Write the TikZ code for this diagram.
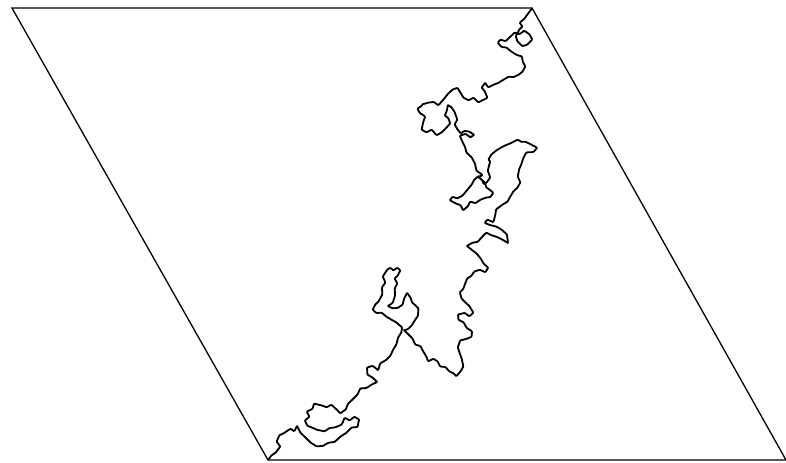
\documentclass[tikz,border=0pt]{standalone}
\usetikzlibrary{decorations.pathmorphing}
\tikzset{
  frame/.style={line width=0.65pt,black},
  trace/.style={line width=0.9pt,black,line join=round,
    decorate,decoration={random steps,segment length=2.2pt,amplitude=2.4pt},
    rounded corners=0.4pt}
}
\begin{document}
\begin{tikzpicture}[x=0.5pt,y=-0.5pt]
\pgfmathsetseed{7}
\useasboundingbox (0,0) rectangle (786,462);
\coordinate (nw) at (12,8);
\coordinate (ne) at (532,8);
\coordinate (se) at (786,460);
\coordinate (sw) at (268,460);
\draw[frame] (nw) -- (ne) -- (se) -- (sw) -- cycle;
\draw[trace] (sw) -- (271,456) -- (275,453) -- (280,447) -- (277,442) -- (279,436) -- (284,433) -- (290,429) -- (294,431) -- (297,426) -- (300,432)
  -- (305,437) -- (310,442) -- (316,446) -- (322,446) -- (328,443) -- (334,442) -- (340,437) -- (346,433) -- (351,428) -- (357,427) -- (359,420)
  -- (355,417) -- (350,420) -- (345,418) -- (342,424) -- (336,427) -- (330,428) -- (325,431) -- (318,430) -- (313,428) -- (308,426) -- (305,421)
  -- (309,417) -- (307,412) -- (312,409) -- (314,404) -- (320,405) -- (326,407) -- (331,405) -- (336,409) -- (340,413) -- (345,410) -- (348,404)
  -- (352,400) -- (357,395) -- (360,389) -- (366,388) -- (371,385) -- (377,382)
  -- (373,378) -- (368,375) -- (367,368) -- (372,366) -- (378,370) -- (380,364) -- (386,360) -- (390,356) -- (393,350) -- (396,345) -- (398,338)
  -- (401,333) -- (402,328)
  -- (397,323) -- (392,320) -- (387,317) -- (382,313) -- (377,313) -- (373,310) -- (375,305) -- (378,302) -- (382,295) -- (382,288) -- (385,283)
  -- (383,277) -- (387,270) -- (390,268) -- (393,270) -- (397,268) -- (400,270) -- (398,275) -- (395,278) -- (397,283) -- (395,288) -- (395,295)
  -- (393,302) -- (388,306) -- (392,308) -- (397,308) -- (402,305) -- (404,299) -- (407,293) -- (410,297) -- (412,302) -- (415,305) -- (418,308)
  -- (418,315) -- (415,320) -- (412,325) -- (408,329) -- (404,330)
  -- (408,334) -- (412,338) -- (415,344) -- (420,346) -- (423,351) -- (426,356) -- (428,361) -- (433,359) -- (437,361) -- (440,366) -- (445,367)
  -- (449,371) -- (453,373) -- (456,376) -- (460,372) -- (463,367) -- (462,360) -- (460,354) -- (458,348) -- (460,341) -- (466,339) -- (471,337)
  -- (472,332) -- (467,328) -- (464,323) -- (459,320) -- (458,315) -- (464,313) -- (469,316) -- (473,313) -- (470,307) -- (466,303) -- (462,299)
  -- (460,293) -- (463,289) -- (465,284) -- (467,279) -- (471,276) -- (474,272) -- (479,270) -- (485,272) -- (488,268) -- (484,264) -- (481,259)
  -- (477,254) -- (472,250) -- (467,246) -- (472,243)
  -- (477,242) -- (482,237) -- (486,233) -- (491,235) -- (497,237) -- (503,240) -- (508,243) -- (507,235) -- (502,230) -- (497,227) -- (490,225)
  -- (485,223) -- (487,220) -- (493,222) -- (495,216) -- (496,210) -- (502,205) -- (507,202) -- (510,197) -- (513,192) -- (517,188) -- (520,183)
  -- (518,177) -- (519,170) -- (521,165) -- (523,159) -- (526,153) -- (533,152) -- (537,148) -- (532,145) -- (526,142) -- (518,140) -- (511,143)
  -- (504,146) -- (497,150) -- (492,154) -- (490,162) -- (488,170) -- (490,177) -- (487,182) -- (484,184) -- (482,180) -- (478,177) -- (475,179)
  -- (472,184) -- (468,189) -- (463,195) -- (458,198) -- (453,197) -- (450,200) -- (455,203) -- (460,205) -- (463,210) -- (467,207) -- (470,202)
  -- (475,203) -- (480,200) -- (485,198) -- (490,197) -- (493,193) -- (490,190) -- (487,188) -- (485,183) -- (482,175) -- (477,171) -- (475,164)
  -- (472,158) -- (467,153) -- (465,147) -- (463,143) -- (460,136) -- (465,134) -- (470,137) -- (474,135) -- (470,132) -- (465,131) -- (461,133)
  -- (458,130) -- (455,125) -- (457,120) -- (455,113) -- (452,108) -- (448,105) -- (447,110) -- (445,115) -- (448,118) -- (450,123) -- (447,127)
  -- (442,132) -- (437,135) -- (432,130) -- (427,132) -- (422,130) -- (423,123) -- (425,117) -- (420,113) -- (422,105) -- (427,103) -- (433,102)
  -- (438,105) -- (443,100) -- (447,95) -- (452,90) -- (457,88) -- (460,92) -- (463,97) -- (468,100) -- (473,98) -- (478,102) -- (483,100)
  -- (487,98) -- (485,92) -- (482,88) -- (485,83) -- (488,87) -- (493,85) -- (498,83) -- (503,80) -- (508,77) -- (513,77) -- (518,75)
  -- (522,72) -- (525,67) -- (523,62) -- (522,57) -- (517,55) -- (512,52) -- (507,48) -- (502,47) -- (498,43) -- (500,40) -- (505,41)
  -- (510,37) -- (514,33) -- (519,34) -- (524,31) -- (529,34) -- (532,39) -- (528,44) -- (523,46) -- (518,42) -- (516,37) -- (519,30)
  -- (522,27) -- (520,23) -- (524,19) -- (527,15) -- (530,11) -- (ne);
\end{tikzpicture}
\end{document}
